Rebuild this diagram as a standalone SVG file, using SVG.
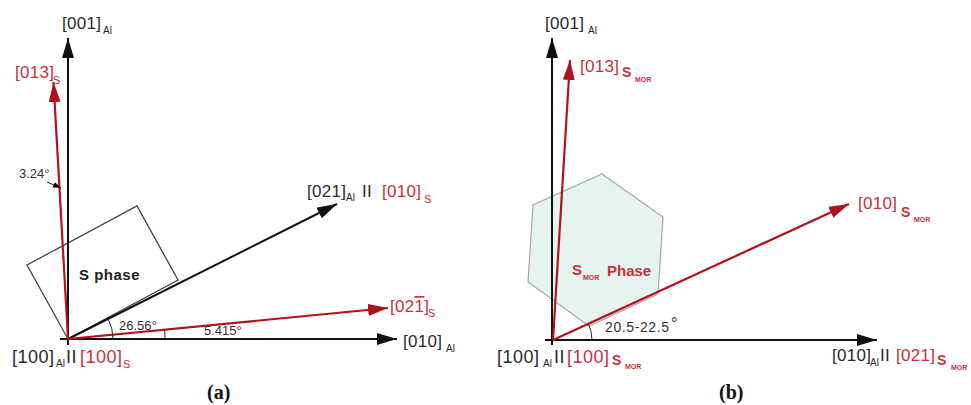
<svg xmlns="http://www.w3.org/2000/svg" width="971" height="405" viewBox="0 0 971 405">
<defs>
<marker id="ab" viewBox="0 0 20 12" refX="20" refY="6" markerWidth="20" markerHeight="12" markerUnits="userSpaceOnUse" orient="auto"><path d="M0,0 L20,6 L0,12 Z" fill="#111"/></marker>
<marker id="ar" viewBox="0 0 20 12" refX="20" refY="6" markerWidth="20" markerHeight="12" markerUnits="userSpaceOnUse" orient="auto"><path d="M0,0 L20,6 L0,12 Z" fill="#b3121c"/></marker>
<marker id="as" viewBox="0 0 8 6" refX="8" refY="3" markerWidth="8" markerHeight="6" markerUnits="userSpaceOnUse" orient="auto"><path d="M0,0 L8,3 L0,6 Z" fill="#111"/></marker>
<style>
text{font-family:"Liberation Sans",Arial,sans-serif;}
.lb{font-size:17px;fill:#2a2a2a;letter-spacing:0.3px;}
.lr{font-size:17px;fill:#c4323a;letter-spacing:0.3px;}
.big{font-size:18px;letter-spacing:0.5px;}
.sb{font-size:10px;fill:#2a2a2a;}
.sr{font-size:11px;fill:#c4323a;}
.sm{font-size:14px;font-weight:bold;fill:#c4323a;}
.mor{font-size:7px;font-weight:bold;fill:#c4323a;}
.ang{font-size:13px;fill:#333;}
.cap{font-family:"Liberation Serif","Times New Roman",serif;font-size:20px;font-weight:bold;fill:#111;}
.kb{stroke:#111;stroke-width:2;fill:none;}
.kr{stroke:#b3121c;stroke-width:2.2;fill:none;}
.thin{stroke:#222;stroke-width:1;fill:none;}
</style>
</defs>

<!-- Panel (a) shapes -->
<g id="s-phase-a">
<polygon points="68,339 27,265 137,206 178,280" fill="none" stroke="#444" stroke-width="1.3"/>
<text x="79" y="280" style="font-size:15px;font-weight:bold;fill:#222;letter-spacing:0.5px">S phase</text>
</g>

<!-- Panel (b) shapes -->
<g id="s-mor-phase-b">
<polygon points="602,174 663,217 658,294 589,326 528,282 533,205" fill="#dcefe8" fill-opacity="0.7" stroke="#a8a8a8" stroke-width="1.2"/>
<text x="572" y="275" style="font-size:15px;font-weight:bold;fill:#c4323a">S</text>
<text x="583" y="280" class="mor">MOR</text>
<text x="607" y="276" style="font-size:15px;font-weight:bold;fill:#c4323a">Phase</text>
</g>

<g id="connectors">
<!-- (a) -->
<line class="kb" x1="68" y1="345" x2="68" y2="38" marker-end="url(#ab)"/>
<line class="kb" x1="60" y1="339" x2="397" y2="339" marker-end="url(#ab)"/>
<line class="kb" x1="68" y1="339" x2="337" y2="204" marker-end="url(#ab)"/>
<line class="kr" x1="68" y1="339" x2="53.5" y2="82" marker-end="url(#ar)"/>
<line class="kr" x1="68" y1="339" x2="388" y2="308" marker-end="url(#ar)"/>
<path class="thin" d="M113,339 A45,45 0 0 0 108.2,318.9"/>
<path class="thin" d="M165,339 A97,97 0 0 0 164.6,329.8"/>
<line class="thin" x1="47" y1="182" x2="61" y2="188" marker-end="url(#as)"/>
<!-- (b) -->
<line class="kb" x1="552" y1="345" x2="552" y2="38" marker-end="url(#ab)"/>
<line class="kb" x1="545" y1="340" x2="877" y2="340" marker-end="url(#ab)"/>
<line class="kr" x1="553" y1="340" x2="570" y2="60" marker-end="url(#ar)"/>
<line class="kr" x1="553" y1="340" x2="849" y2="204" marker-end="url(#ar)"/>
<path class="thin" d="M592,340 A39,39 0 0 0 588.4,323.7"/>
</g>

<!-- Panel (a) labels -->
<g id="label-001-a"><text class="lb" x="62" y="29">[001]</text><text class="sb" x="103" y="34">Al</text></g>
<g id="label-013-a"><text class="lr" x="15" y="78">[013]</text><text class="sr" x="53" y="84">S</text></g>
<text class="ang" x="19" y="178">3.24°</text>
<text class="ang" x="119" y="330">26.56°</text>
<text class="ang" x="204" y="335">5.415°</text>
<g id="label-100-a"><text class="lb big" x="12" y="363">[100]</text><text class="sb" x="56" y="367">Al</text><text class="lb big" x="66" y="363">II</text><text class="lr big" x="80" y="363">[100]</text><text class="sr" x="123" y="368">S</text></g>
<g id="label-021-a"><text class="lb" x="307" y="197">[021]</text><text class="sb" x="346" y="201">Al</text><text class="lb" x="362" y="197">II</text><text class="lr" x="382" y="197">[010]</text><text class="sr" x="424" y="203">S</text></g>
<g id="label-02-1-a"><text class="lr" x="390" y="312">[02<tspan text-decoration="overline">1</tspan>]</text><text class="sr" x="428" y="317">S</text></g>
<g id="label-010-a"><text class="lb" x="403" y="347">[010]</text><text class="sb" x="446" y="352">Al</text></g>
<text class="cap" x="207" y="399">(a)</text>

<!-- Panel (b) labels -->
<g id="label-001-b"><text class="lb" x="545" y="29">[001]</text><text class="sb" x="588" y="34">Al</text></g>
<g id="label-013-b"><text class="lr" x="580" y="72">[013]</text><text class="sm" x="622" y="77">S</text><text class="mor" x="635" y="82">MOR</text></g>
<g id="label-010-b"><text class="lr" x="858" y="209">[010]</text><text class="sm" x="901" y="217">S</text><text class="mor" x="914" y="222">MOR</text></g>
<text class="ang" x="605" y="332" style="font-size:14px;letter-spacing:0.6px">20.5-22.5</text>
<text class="ang" x="671" y="329" style="font-size:16px">°</text>
<g id="label-100-b"><text class="lb big" x="497" y="363">[100]</text><text class="sb" x="543" y="367">Al</text><text class="lb big" x="554" y="363">II</text><text class="lr big" x="567" y="363">[100]</text><text class="sm" x="612" y="365">S</text><text class="mor" x="625" y="369">MOR</text></g>
<g id="label-010al-b"><text class="lb" x="832" y="361">[010]</text><text class="sb" x="870" y="366">Al</text><text class="lb" x="880" y="361">II</text><text class="lr" x="896" y="361">[021]</text><text class="sm" x="937" y="365">S</text><text class="mor" x="951" y="370">MOR</text></g>
<text class="cap" x="719" y="399">(b)</text>
</svg>
